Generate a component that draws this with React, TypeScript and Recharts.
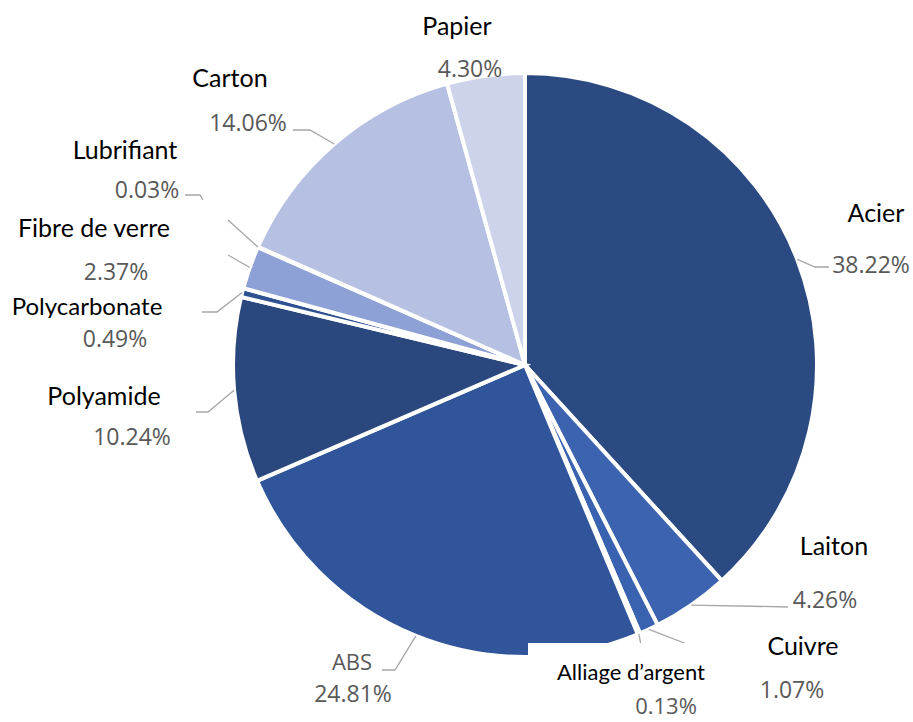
import { PieChart, Pie, Cell } from "recharts";

// shares in %, clockwise from 12 o'clock
const materials = [
  "Acier",
  "Laiton",
  "Cuivre",
  "Alliage d’argent",
  "ABS",
  "Polyamide",
  "Polycarbonate",
  "Fibre de verre",
  "Lubrifiant",
  "Carton",
  "Papier",
];
const shares = [38.22, 4.26, 1.07, 0.13, 24.81, 10.24, 0.49, 2.37, 0.03, 14.06, 4.3];

const sliceColors = [
  "#2c4a82",
  "#3b63b0",
  "#3962b0",
  "#3a60aa",
  "#30559a",
  "#2b487e",
  "#2f5192",
  "#8ea1d6",
  "#a9b6df",
  "#b5c0e3",
  "#cdd3ea",
];

const data = materials.map((name, i) => ({ name, value: shares[i] }));

type Pt = [number, number] | null;
interface LabelLayout {
  name: [number, number];
  pct: [number, number];
  leader: Pt[];
  nameSize?: number;
  nameGray?: boolean;
}

// hand placed like the original (Excel-style moved labels)
const labelLayout: LabelLayout[] = [
  { name: [876, 222], pct: [871, 273], leader: [[815, 267], [829, 267]] },
  { name: [834, 555], pct: [825, 608], leader: [[788, 607]] },
  { name: [803, 655], pct: [792, 698], leader: [[692, 646]] },
  { name: [631, 680], pct: [666, 714], leader: [[641, 645]], nameSize: 22 },
  { name: [352, 670], pct: [353, 702], leader: [[395, 670], [382, 670]], nameGray: true },
  { name: [104, 405], pct: [132, 445], leader: [[208, 412], [196, 412]] },
  { name: [87, 315], pct: [115, 347], leader: [[217, 312], [202, 312]], nameSize: 24 },
  { name: [94, 237], pct: [116, 280], leader: [[228, 255]] },
  { name: [125, 159], pct: [147, 198], leader: [[228, 220], null, [203, 200], [200, 195], [185, 195]] },
  { name: [230, 87], pct: [248, 131], leader: [[310, 130], [293, 130]] },
  { name: [457, 35], pct: [470, 77], leader: [] },
];

const RADIAN = Math.PI / 180;
const NAME_FONT = "Lato, 'Open Sans', sans-serif";
const PCT_FONT = "'Open Sans', 'DejaVu Sans', sans-serif";
const GRAY = "#595959";
const LINE = "#a6a6a6";

function renderLabel(props: any) {
  const { cx, cy, midAngle, outerRadius, index } = props;
  const lay = labelLayout[index];
  const ex = cx + outerRadius * Math.cos(-midAngle * RADIAN);
  const ey = cy + outerRadius * Math.sin(-midAngle * RADIAN);

  // split leader into polylines at nulls
  const runs: [number, number][][] = [];
  let cur: [number, number][] = [[ex, ey]];
  lay.leader.forEach((p) => {
    if (p === null) {
      runs.push(cur);
      cur = [];
    } else cur.push(p);
  });
  runs.push(cur);

  return (
    <g key={`lbl-${index}`}>
      {runs
        .filter((r) => r.length > 1)
        .map((r, k) => (
          <polyline
            key={k}
            points={r.map((p) => p.join(",")).join(" ")}
            fill="none"
            stroke={LINE}
            strokeWidth={1.3}
          />
        ))}
      {index === 3 && <rect x={528} y={643} width={215} height={80} fill="#fff" />}
      <text
        x={lay.name[0]}
        y={lay.name[1]}
        textAnchor="middle"
        fontFamily={lay.nameGray ? PCT_FONT : NAME_FONT}
        fontSize={lay.nameGray ? 22 : lay.nameSize ?? 25}
        fill={lay.nameGray ? GRAY : "#000"}
      >
        {materials[index]}
      </text>
      {index === 6 && <rect x={0} y={318} width={200} height={36} fill="#fff" />}
      <text
        x={lay.pct[0]}
        y={lay.pct[1]}
        textAnchor="middle"
        fontFamily={PCT_FONT}
        fontSize={index === 3 ? 22 : 23}
        fill={GRAY}
      >
        {shares[index].toFixed(2)}%
      </text>
    </g>
  );
}

export default function App() {
  return (
    <div style={{ position: "absolute", left: 0, top: 0, width: 913, height: 722, background: "#fff" }}>
      <PieChart width={913} height={722} margin={{ top: 0, right: 0, bottom: 0, left: 0 }}>
        <Pie
          data={data}
          dataKey="value"
          nameKey="name"
          cx={525}
          cy={365}
          outerRadius={292}
          startAngle={90}
          endAngle={-270}
          stroke="#fff"
          strokeWidth={4}
          label={renderLabel}
          labelLine={false}
          isAnimationActive={false}
        >
          {data.map((d, i) => (
            <Cell key={d.name} fill={sliceColors[i]} />
          ))}
        </Pie>
      </PieChart>
    </div>
  );
}
